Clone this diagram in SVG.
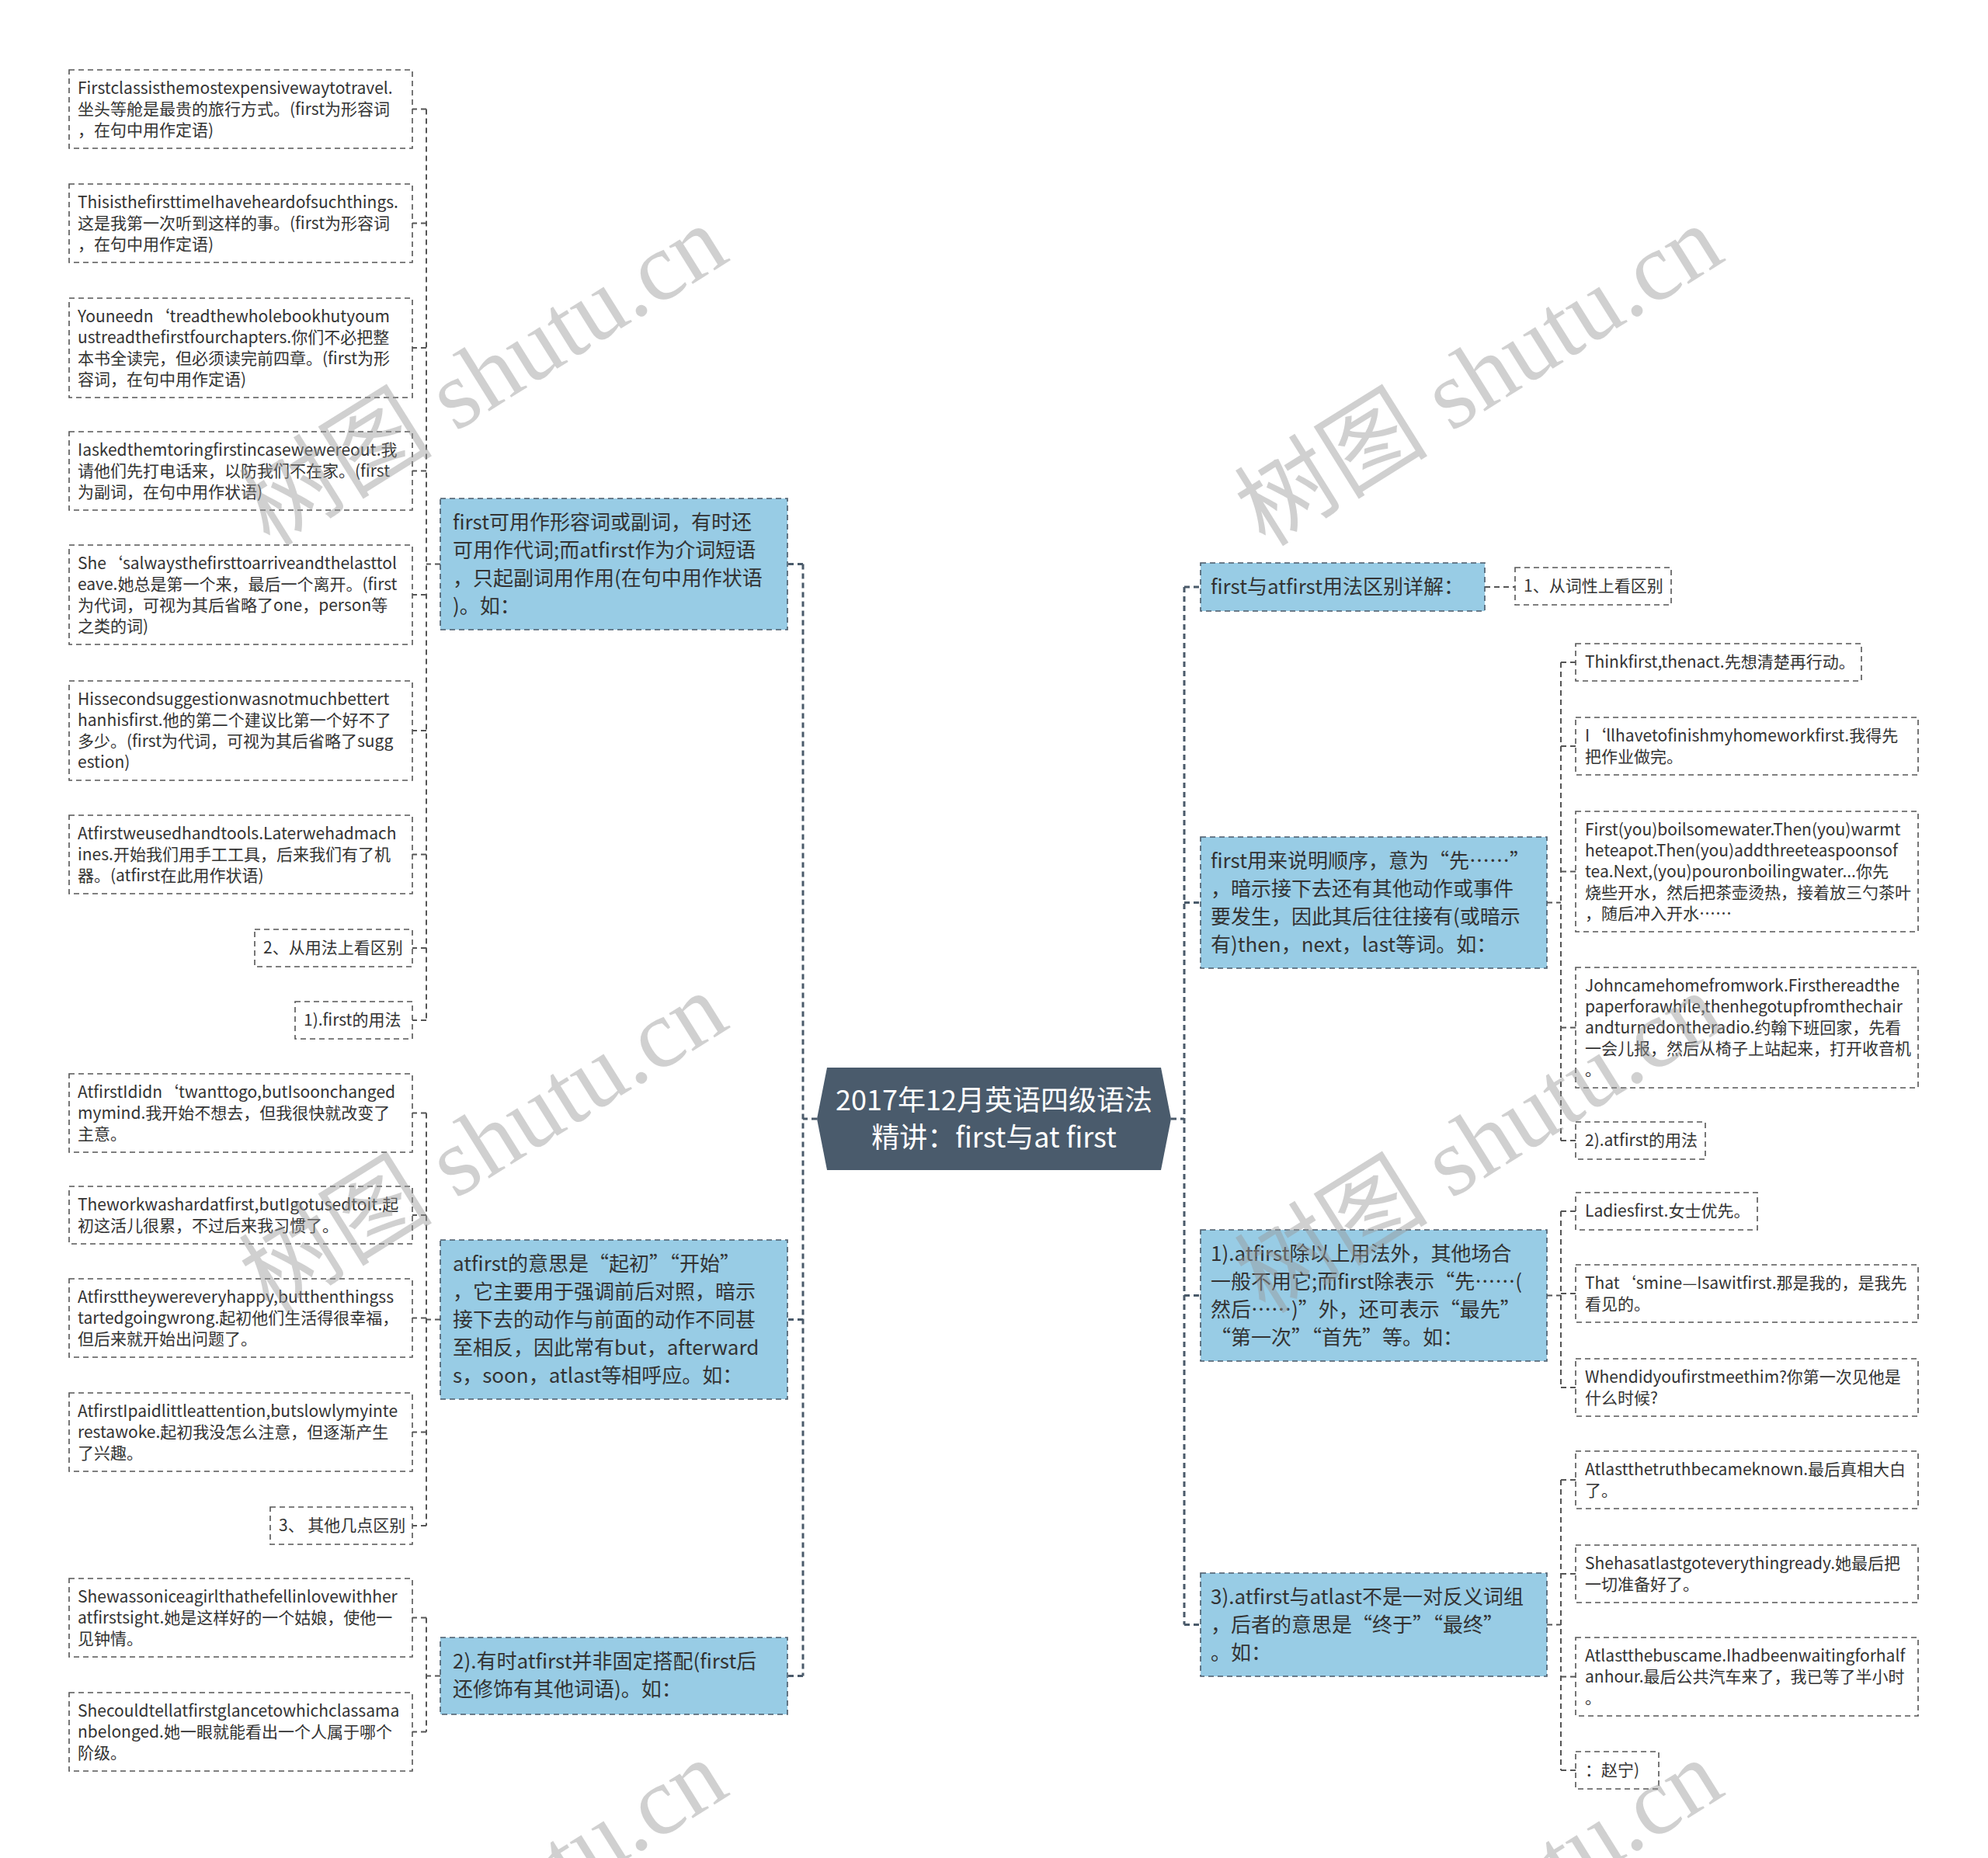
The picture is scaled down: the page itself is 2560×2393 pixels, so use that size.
<svg xmlns="http://www.w3.org/2000/svg" width="2560" height="2393" viewBox="0 0 2560 2393">
<style>
text{font-family:"Noto Sans CJK SC","Liberation Sans",sans-serif;fill:#333}
.t{font-size:21px}
.bt{font-size:26px}
.ct{font-size:36px;fill:#fff;text-anchor:middle}
.box{fill:#fff;stroke:#555;stroke-width:1.6;stroke-dasharray:7 5}
.blue{fill:#98CCE5;stroke:#4a5a6a;stroke-width:1.6;stroke-dasharray:7 5}
.conn{fill:none;stroke:#555;stroke-width:2;stroke-dasharray:7 5}
.trunk{fill:none;stroke:#4a5a6a;stroke-width:3;stroke-dasharray:7 5}
.wm{font-family:"Liberation Serif","Noto Sans CJK SC",serif;font-size:125px;fill:#999;opacity:0.45;text-anchor:middle}
</style>
<rect width="2560" height="2393" fill="#fff"/>

<g id="connectors">
  <path class="trunk" d="M1052,1441 H1034 M1034,726.5 V2158.5 M1034,726.5 H1014 M1034,1699.5 H1014 M1034,2158.5 H1014"/>
  <path class="trunk" d="M1508,1441 H1525 M1525,756 V2092.5 M1525,756 H1546 M1525,1162.5 H1546 M1525,1668.5 H1546 M1525,2092.5 H1546"/>
  <path class="conn" d="M567,726.5 H549 M549,140.5 V1314 M549,140.5 H531 M549,287.5 H531 M549,448 H531 M549,606.5 H531 M549,766 H531 M549,941 H531 M549,1100.5 H531 M549,1221 H531 M549,1314 H531"/>
  <path class="conn" d="M567,1699.5 H549 M549,1433.5 V1965 M549,1433.5 H531 M549,1565 H531 M549,1697.5 H531 M549,1844.5 H531 M549,1965 H531"/>
  <path class="conn" d="M567,2158.5 H549 M549,2083.5 V2230.5 M549,2083.5 H531 M549,2230.5 H531"/>
  <path class="conn" d="M1912,756 H1951"/>
  <path class="conn" d="M1992,1162.5 H2010 M2010,853 V1469 M2010,853 H2029 M2010,961 H2029 M2010,1122.5 H2029 M2010,1323.5 H2029 M2010,1469 H2029"/>
  <path class="conn" d="M1992,1668.5 H2010 M2010,1560 V1787 M2010,1560 H2029 M2010,1666 H2029 M2010,1787 H2029"/>
  <path class="conn" d="M1992,2092.5 H2010 M2010,1906 V2280 M2010,1906 H2029 M2010,2027 H2029 M2010,2159.5 H2029 M2010,2280 H2029"/>
</g>

<g id="center">
  <polygon points="1052,1441 1065,1375 1495,1375 1508,1441 1495,1507 1065,1507" fill="#4A5B6C"/>
  <text class="ct" x="1280" y="1430">2017年12月英语四级语法</text>
  <text class="ct" x="1280" y="1478">精讲：first与at first</text>
</g>

<g id="b1">
  <rect class="blue" x="567" y="642" width="447" height="169"/>
  <text class="bt" x="583" y="682">first可用作形容词或副词，有时还</text>
  <text class="bt" x="583" y="718">可用作代词;而atfirst作为介词短语</text>
  <text class="bt" x="583" y="754">，只起副词用作用(在句中用作状语</text>
  <text class="bt" x="583" y="790">)。如：</text>
</g>
<g id="b2">
  <rect class="blue" x="567" y="1597" width="447" height="205"/>
  <text class="bt" x="583" y="1637">atfirst的意思是“起初”“开始”</text>
  <text class="bt" x="583" y="1673">，它主要用于强调前后对照，暗示</text>
  <text class="bt" x="583" y="1709">接下去的动作与前面的动作不同甚</text>
  <text class="bt" x="583" y="1745">至相反，因此常有but，afterward</text>
  <text class="bt" x="583" y="1781">s，soon，atlast等相呼应。如：</text>
</g>
<g id="b3">
  <rect class="blue" x="567" y="2109" width="447" height="99"/>
  <text class="bt" x="583" y="2149">2).有时atfirst并非固定搭配(first后</text>
  <text class="bt" x="583" y="2185">还修饰有其他词语)。如：</text>
</g>

<g id="l1">
  <rect class="box" x="89" y="90" width="442" height="101"/>
  <text class="t" x="100" y="121">Firstclassisthemostexpensivewaytotravel.</text>
  <text class="t" x="100" y="148">坐头等舱是最贵的旅行方式。(first为形容词</text>
  <text class="t" x="100" y="175">，在句中用作定语)</text>
</g>
<g id="l2">
  <rect class="box" x="89" y="237" width="442" height="101"/>
  <text class="t" x="100" y="268">ThisisthefirsttimeIhaveheardofsuchthings.</text>
  <text class="t" x="100" y="295">这是我第一次听到这样的事。(first为形容词</text>
  <text class="t" x="100" y="322">，在句中用作定语)</text>
</g>
<g id="l3">
  <rect class="box" x="89" y="384" width="442" height="128"/>
  <text class="t" x="100" y="415">Youneedn‘treadthewholebookhutyoum</text>
  <text class="t" x="100" y="442">ustreadthefirstfourchapters.你们不必把整</text>
  <text class="t" x="100" y="469">本书全读完，但必须读完前四章。(first为形</text>
  <text class="t" x="100" y="496">容词，在句中用作定语)</text>
</g>
<g id="l4">
  <rect class="box" x="89" y="556" width="442" height="101"/>
  <text class="t" x="100" y="587">Iaskedthemtoringfirstincasewewereout.我</text>
  <text class="t" x="100" y="614">请他们先打电话来，以防我们不在家。(first</text>
  <text class="t" x="100" y="641">为副词，在句中用作状语)</text>
</g>
<g id="l5">
  <rect class="box" x="89" y="702" width="442" height="128"/>
  <text class="t" x="100" y="733">She‘salwaysthefirsttoarriveandthelasttol</text>
  <text class="t" x="100" y="760">eave.她总是第一个来，最后一个离开。(first</text>
  <text class="t" x="100" y="787">为代词，可视为其后省略了one，person等</text>
  <text class="t" x="100" y="814">之类的词)</text>
</g>
<g id="l6">
  <rect class="box" x="89" y="877" width="442" height="128"/>
  <text class="t" x="100" y="908">Hissecondsuggestionwasnotmuchbettert</text>
  <text class="t" x="100" y="935">hanhisfirst.他的第二个建议比第一个好不了</text>
  <text class="t" x="100" y="962">多少。(first为代词，可视为其后省略了sugg</text>
  <text class="t" x="100" y="989">estion)</text>
</g>
<g id="l7">
  <rect class="box" x="89" y="1050" width="442" height="101"/>
  <text class="t" x="100" y="1081">Atfirstweusedhandtools.Laterwehadmach</text>
  <text class="t" x="100" y="1108">ines.开始我们用手工工具，后来我们有了机</text>
  <text class="t" x="100" y="1135">器。(atfirst在此用作状语)</text>
</g>
<g id="l8">
  <rect class="box" x="328" y="1197" width="203" height="48"/>
  <text class="t" x="339" y="1228">2、从用法上看区别</text>
</g>
<g id="l9">
  <rect class="box" x="380" y="1290" width="151" height="48"/>
  <text class="t" x="391" y="1321">1).first的用法</text>
</g>
<g id="l10">
  <rect class="box" x="89" y="1383" width="442" height="101"/>
  <text class="t" x="100" y="1414">AtfirstIdidn‘twanttogo,butIsoonchanged</text>
  <text class="t" x="100" y="1441">mymind.我开始不想去，但我很快就改变了</text>
  <text class="t" x="100" y="1468">主意。</text>
</g>
<g id="l11">
  <rect class="box" x="89" y="1528" width="442" height="74"/>
  <text class="t" x="100" y="1559">Theworkwashardatfirst,butIgotusedtoit.起</text>
  <text class="t" x="100" y="1586">初这活儿很累，不过后来我习惯了。</text>
</g>
<g id="l12">
  <rect class="box" x="89" y="1647" width="442" height="101"/>
  <text class="t" x="100" y="1678">Atfirsttheywereveryhappy,butthenthingss</text>
  <text class="t" x="100" y="1705">tartedgoingwrong.起初他们生活得很幸福，</text>
  <text class="t" x="100" y="1732">但后来就开始出问题了。</text>
</g>
<g id="l13">
  <rect class="box" x="89" y="1794" width="442" height="101"/>
  <text class="t" x="100" y="1825">AtfirstIpaidlittleattention,butslowlymyinte</text>
  <text class="t" x="100" y="1852">restawoke.起初我没怎么注意，但逐渐产生</text>
  <text class="t" x="100" y="1879">了兴趣。</text>
</g>
<g id="l14">
  <rect class="box" x="348" y="1941" width="183" height="48"/>
  <text class="t" x="359" y="1972">3、 其他几点区别</text>
</g>
<g id="l15">
  <rect class="box" x="89" y="2033" width="442" height="101"/>
  <text class="t" x="100" y="2064">Shewassoniceagirlthathefellinlovewithher</text>
  <text class="t" x="100" y="2091">atfirstsight.她是这样好的一个姑娘，使他一</text>
  <text class="t" x="100" y="2118">见钟情。</text>
</g>
<g id="l16">
  <rect class="box" x="89" y="2180" width="442" height="101"/>
  <text class="t" x="100" y="2211">Shecouldtellatfirstglancetowhichclassama</text>
  <text class="t" x="100" y="2238">nbelonged.她一眼就能看出一个人属于哪个</text>
  <text class="t" x="100" y="2265">阶级。</text>
</g>

<g id="r1">
  <rect class="blue" x="1546" y="725" width="366" height="62"/>
  <text class="bt" x="1559" y="765">first与atfirst用法区别详解：</text>
</g>
<g id="r1c">
  <rect class="box" x="1951" y="731" width="201" height="48"/>
  <text class="t" x="1962" y="762">1、从词性上看区别</text>
</g>
<g id="r2">
  <rect class="blue" x="1546" y="1078" width="446" height="169"/>
  <text class="bt" x="1559" y="1118">first用来说明顺序，意为“先……”</text>
  <text class="bt" x="1559" y="1154">，暗示接下去还有其他动作或事件</text>
  <text class="bt" x="1559" y="1190">要发生，因此其后往往接有(或暗示</text>
  <text class="bt" x="1559" y="1226">有)then，next，last等词。如：</text>
</g>
<g id="c1">
  <rect class="box" x="2029" y="829" width="368" height="48"/>
  <text class="t" x="2041" y="860">Thinkfirst,thenact.先想清楚再行动。</text>
</g>
<g id="c2">
  <rect class="box" x="2029" y="924" width="441" height="74"/>
  <text class="t" x="2041" y="955">I‘llhavetofinishmyhomeworkfirst.我得先</text>
  <text class="t" x="2041" y="982">把作业做完。</text>
</g>
<g id="c3">
  <rect class="box" x="2029" y="1045" width="441" height="155"/>
  <text class="t" x="2041" y="1076">First(you)boilsomewater.Then(you)warmt</text>
  <text class="t" x="2041" y="1103">heteapot.Then(you)addthreeteaspoonsof</text>
  <text class="t" x="2041" y="1130">tea.Next,(you)pouronboilingwater...你先</text>
  <text class="t" x="2041" y="1157">烧些开水，然后把茶壶烫热，接着放三勺茶叶</text>
  <text class="t" x="2041" y="1184">，随后冲入开水……</text>
</g>
<g id="c4">
  <rect class="box" x="2029" y="1246" width="441" height="155"/>
  <text class="t" x="2041" y="1277">Johncamehomefromwork.Firsthereadthe</text>
  <text class="t" x="2041" y="1304">paperforawhile,thenhegotupfromthechair</text>
  <text class="t" x="2041" y="1331">andturnedontheradio.约翰下班回家，先看</text>
  <text class="t" x="2041" y="1358">一会儿报，然后从椅子上站起来，打开收音机</text>
  <text class="t" x="2041" y="1385">。</text>
</g>
<g id="c5">
  <rect class="box" x="2029" y="1445" width="167" height="48"/>
  <text class="t" x="2041" y="1476">2).atfirst的用法</text>
</g>
<g id="r3">
  <rect class="blue" x="1546" y="1584" width="446" height="169"/>
  <text class="bt" x="1559" y="1624">1).atfirst除以上用法外，其他场合</text>
  <text class="bt" x="1559" y="1660">一般不用它;而first除表示“先……(</text>
  <text class="bt" x="1559" y="1696">然后……)”外，还可表示“最先”</text>
  <text class="bt" x="1559" y="1732">“第一次”“首先”等。如：</text>
</g>
<g id="d1">
  <rect class="box" x="2029" y="1536" width="234" height="48"/>
  <text class="t" x="2041" y="1567">Ladiesfirst.女士优先。</text>
</g>
<g id="d2">
  <rect class="box" x="2029" y="1629" width="441" height="74"/>
  <text class="t" x="2041" y="1660">That‘smine—Isawitfirst.那是我的，是我先</text>
  <text class="t" x="2041" y="1687">看见的。</text>
</g>
<g id="d3">
  <rect class="box" x="2029" y="1750" width="441" height="74"/>
  <text class="t" x="2041" y="1781">Whendidyoufirstmeethim?你第一次见他是</text>
  <text class="t" x="2041" y="1808">什么时候?</text>
</g>
<g id="r4">
  <rect class="blue" x="1546" y="2026" width="446" height="133"/>
  <text class="bt" x="1559" y="2066">3).atfirst与atlast不是一对反义词组</text>
  <text class="bt" x="1559" y="2102">，后者的意思是“终于”“最终”</text>
  <text class="bt" x="1559" y="2138">。如：</text>
</g>
<g id="e1">
  <rect class="box" x="2029" y="1869" width="441" height="74"/>
  <text class="t" x="2041" y="1900">Atlastthetruthbecameknown.最后真相大白</text>
  <text class="t" x="2041" y="1927">了。</text>
</g>
<g id="e2">
  <rect class="box" x="2029" y="1990" width="441" height="74"/>
  <text class="t" x="2041" y="2021">Shehasatlastgoteverythingready.她最后把</text>
  <text class="t" x="2041" y="2048">一切准备好了。</text>
</g>
<g id="e3">
  <rect class="box" x="2029" y="2109" width="441" height="101"/>
  <text class="t" x="2041" y="2140">Atlastthebuscame.Ihadbeenwaitingforhalf</text>
  <text class="t" x="2041" y="2167">anhour.最后公共汽车来了，我已等了半小时</text>
  <text class="t" x="2041" y="2194">。</text>
</g>
<g id="e4">
  <rect class="box" x="2029" y="2256" width="107" height="48"/>
  <text class="t" x="2041" y="2287">：赵宁)</text>
</g>

<g id="watermarks">
  <text class="wm" transform="translate(645,520) rotate(-32)">树图 shutu.cn</text>
  <text class="wm" transform="translate(1927,520) rotate(-32)">树图 shutu.cn</text>
  <text class="wm" transform="translate(645,1508) rotate(-32)">树图 shutu.cn</text>
  <text class="wm" transform="translate(1927,1508) rotate(-32)">树图 shutu.cn</text>
  <text class="wm" transform="translate(645,2496) rotate(-32)">树图 shutu.cn</text>
  <text class="wm" transform="translate(1927,2496) rotate(-32)">树图 shutu.cn</text>
</g>
</svg>
